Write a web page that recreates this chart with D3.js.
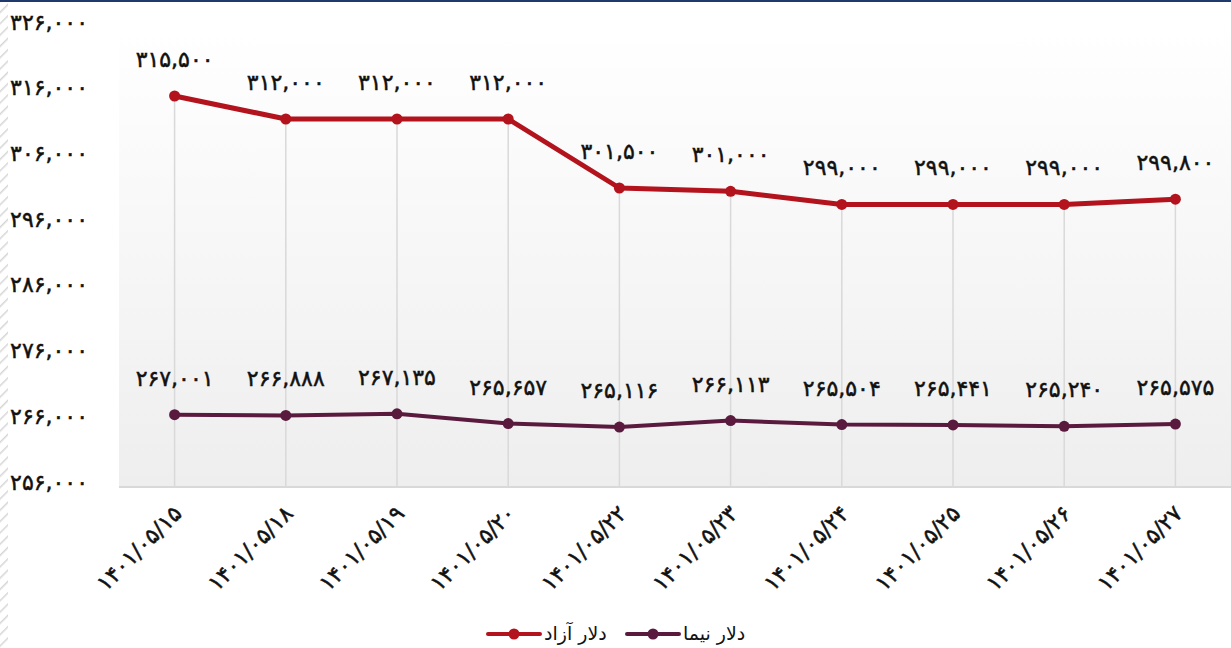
<!DOCTYPE html>
<html><head><meta charset="utf-8">
<script src="https://cdn.jsdelivr.net/npm/d3@7/dist/d3.min.js"></script>
<style>
html,body{margin:0;padding:0;background:#fff;}
svg{display:block;font-family:"DejaVu Sans",sans-serif;}
.num{font-size:22px;fill:#111;stroke:#111;stroke-width:0.5px;font-family:"DejaVu Sans";}
</style></head>
<body>
<script>
const dates = ["1401/05/15","1401/05/18","1401/05/19","1401/05/20","1401/05/22","1401/05/23","1401/05/24","1401/05/25","1401/05/26","1401/05/27"];
const freeDollar = [315500,312000,312000,312000,301500,301000,299000,299000,299000,299800];
const nimaDollar = [267001,266888,267135,265657,265116,266113,265504,265441,265240,265575];
const yTicks = [256000,266000,276000,286000,296000,306000,316000,326000];
const seriesNames = ["دلار آزاد","دلار نیما"];
const seriesColors = ["#b3131c","#5a1a3e"];

const W = 1231, H = 648;
const fa = s => String(s).replace(/[0-9]/g, d => "۰۱۲۳۴۵۶۷۸۹"[+d]);
const fmt = v => fa(d3.format(",")(v));

const svg = d3.select("body").append("svg").attr("width", W).attr("height", H);
const defs = svg.append("defs");
const grad = defs.append("linearGradient").attr("id","bg").attr("x1",0).attr("y1",0).attr("x2",0).attr("y2",1);
grad.append("stop").attr("offset","0%").attr("stop-color","#ffffff");
grad.append("stop").attr("offset","100%").attr("stop-color","#eeeeee");
const pat = defs.append("pattern").attr("id","hatch").attr("patternUnits","userSpaceOnUse")
  .attr("width",8).attr("height",8).attr("patternTransform","rotate(45)");
pat.append("rect").attr("width",8).attr("height",8).attr("fill","#ffffff");
pat.append("line").attr("x1",0).attr("y1",0).attr("x2",0).attr("y2",8).attr("stroke","#d6d6d6").attr("stroke-width",3);

const plot = {left:119, right:1231, top:27, bottom:487};
const x = d3.scalePoint().domain(dates).range([plot.left, plot.right]).padding(0.5);
const y = d3.scaleLinear().domain([256000, 326000]).range([plot.bottom, plot.top]);

svg.append("rect").attr("x",0).attr("y",0).attr("width",8).attr("height",H).attr("fill","url(#hatch)");
svg.append("rect").attr("x",0).attr("y",0).attr("width",W).attr("height",2).attr("fill","#1c3a6b");

svg.append("rect").attr("x",plot.left).attr("y",plot.top).attr("width",plot.right-plot.left)
  .attr("height",plot.bottom-plot.top).attr("fill","url(#bg)");

svg.append("g").selectAll("line").data(dates).join("line")
  .attr("x1", d => x(d)).attr("x2", d => x(d))
  .attr("y1", (d,i) => y(Math.max(freeDollar[i], nimaDollar[i])))
  .attr("y2", plot.bottom)
  .attr("stroke","#d9d9d9").attr("stroke-width",1.5);

svg.append("line").attr("x1",plot.left).attr("x2",plot.right).attr("y1",plot.bottom).attr("y2",plot.bottom)
  .attr("stroke","#d9d9d9").attr("stroke-width",2);

const yAxis = d3.axisLeft(y).tickValues(yTicks).tickSize(0).tickFormat(fmt);
const ya = svg.append("g").attr("transform","translate(91,-5)").call(yAxis);
ya.select(".domain").remove();
ya.attr("font-size",null).attr("font-family",null);
ya.selectAll("text").attr("class","num").attr("fill",null);

const xAxis = d3.axisBottom(x).tickSize(0).tickFormat(fa);
const xa = svg.append("g").attr("transform",`translate(0,${plot.bottom})`).call(xAxis);
xa.select(".domain").remove();
xa.attr("font-size",null).attr("font-family",null);
xa.selectAll("text").attr("class","num").attr("fill",null)
  .attr("text-anchor","end").attr("dy",null).attr("y",0)
  .attr("transform","translate(8,28) rotate(-45)");

const series = [freeDollar, nimaDollar];
const widths = [5, 4];
series.forEach((vals, si) => {
  const line = d3.line().x((d,i) => x(dates[i])).y(d => y(d));
  const g = svg.append("g");
  g.append("path").datum(vals).attr("d", line).attr("fill","none")
    .attr("stroke", seriesColors[si]).attr("stroke-width", widths[si]).attr("stroke-linejoin","round");
  g.selectAll("circle").data(vals).join("circle")
    .attr("cx",(d,i)=>x(dates[i])).attr("cy",d=>y(d)).attr("r",5.5).attr("fill",seriesColors[si]);
  g.selectAll("text").data(vals).join("text")
    .attr("class","num")
    .attr("x",(d,i)=>x(dates[i])).attr("y",d=>y(d)-29)
    .attr("text-anchor","middle")
    .text(fmt);
});

const legendItems = [{x:488, name:seriesNames[0], color:seriesColors[0]},{x:627, name:seriesNames[1], color:seriesColors[1]}];
const lg = svg.append("g").attr("transform","translate(0,634)");
legendItems.forEach(it => {
  lg.append("line").attr("x1",it.x).attr("x2",it.x+52).attr("y1",0).attr("y2",0)
    .attr("stroke",it.color).attr("stroke-width",4).attr("stroke-linecap","round");
  lg.append("circle").attr("cx",it.x+26).attr("cy",0).attr("r",5.5).attr("fill",it.color);
  lg.append("text").attr("x",it.x+56).attr("y",6).attr("font-size",19).attr("fill","#111").text(it.name);
});
</script>
</body></html>
